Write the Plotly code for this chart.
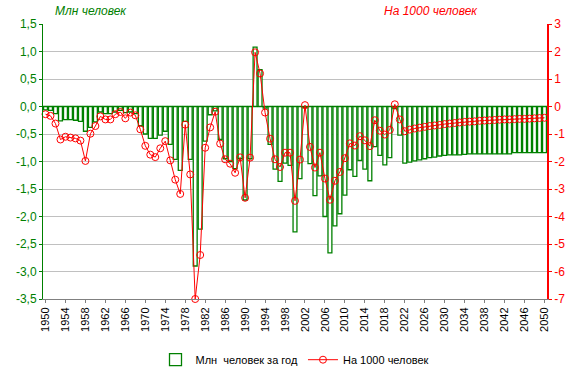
import plotly.graph_objects as go

years = list(range(1950, 2051))

mln_per_year = [
    -0.06, -0.07, -0.13, -0.26, -0.24, -0.24, -0.25, -0.27, -0.45, -0.38,   # 1950-59
    -0.28, -0.10, -0.13, -0.13, -0.10, -0.07, -0.11, -0.10, -0.13, -0.35,   # 1960-69
    -0.50, -0.58, -0.58, -0.52, -0.45, -0.69, -0.96, -1.16, -0.27, -0.96,   # 1970-79
    -2.90, -2.23, -0.63, -0.15, -0.08, -0.60, -0.95, -1.00, -1.13, -0.95,   # 1980-89
    -1.70, -0.95, 1.08, 0.67, -0.03, -0.69, -1.14, -1.36, -1.03, -1.07,     # 1990-99
    -2.28, -1.31, -0.02, -1.04, -1.62, -1.26, -2.00, -2.66, -2.17, -1.95,   # 2000-09
    -1.61, -1.15, -1.27, -0.98, -1.14, -1.35, -0.73, -0.89, -1.06, -0.93,   # 2010-19
    -0.04, -0.52, -1.03, -1.01, -0.99, -0.97, -0.95, -0.93, -0.92, -0.90,   # 2020-29
    -0.89, -0.88, -0.88, -0.88, -0.87, -0.86, -0.86, -0.86, -0.86, -0.86,   # 2030-39
    -0.86, -0.86, -0.86, -0.86, -0.84, -0.84, -0.84, -0.84, -0.84, -0.84,   # 2040-49
    -0.84,                                                                  # 2050
]

per_1000 = [
    -0.28, -0.34, -0.62, -1.20, -1.10, -1.13, -1.16, -1.24, -1.98, -0.99,   # 1950-59
    -0.71, -0.36, -0.47, -0.47, -0.28, -0.20, -0.43, -0.22, -0.32, -0.83,   # 1960-69
    -1.43, -1.75, -1.84, -1.52, -1.26, -1.96, -2.66, -3.18, -0.66, -2.47,   # 1970-79
    -7.00, -5.40, -1.50, -0.76, -0.19, -1.35, -1.92, -2.08, -2.41, -1.85,   # 1980-89
    -3.32, -1.86, 1.97, 1.20, -0.22, -1.17, -1.92, -2.20, -1.68, -1.68,     # 1990-99
    -3.43, -1.93, 0.05, -1.47, -2.22, -1.68, -2.62, -3.39, -2.70, -2.38,    # 2000-09
    -1.88, -1.34, -1.42, -1.08, -1.23, -1.44, -0.50, -0.88, -1.02, -0.85,   # 2010-19
    0.08, -0.47, -0.90, -0.84, -0.80, -0.77, -0.74, -0.71, -0.69, -0.67,    # 2020-29
    -0.64, -0.62, -0.60, -0.58, -0.56, -0.55, -0.54, -0.52, -0.51, -0.50,   # 2030-39
    -0.49, -0.48, -0.47, -0.47, -0.46, -0.45, -0.45, -0.44, -0.43, -0.42,   # 2040-49
    -0.41,                                                                  # 2050
]

x_ticks = list(range(1950, 2051, 4))
left_ticks = [1.5, 1.0, 0.5, 0.0, -0.5, -1.0, -1.5, -2.0, -2.5, -3.0, -3.5]
left_tick_text = ["1,5", "1,0", "0,5", "0,0", "-0,5", "-1,0", "-1,5", "-2,0", "-2,5", "-3,0", "-3,5"]
right_ticks = list(range(-7, 4))
right_tick_text = [str(v) for v in right_ticks]

bar_name = "Млн  человек за год"
line_name = "На 1000 человек"
left_title = "Млн человек"
right_title = "На 1000 человек"

FONT = "Arial, Liberation Sans, sans-serif"
GREEN = "#008000"
RED = "#FF0000"

fig = go.Figure()
fig.add_trace(go.Bar(
    x=years, y=mln_per_year, name=bar_name,
    marker=dict(color="white", line=dict(color=GREEN, width=1.3)),
    yaxis="y",
))
fig.add_trace(go.Scatter(
    x=years, y=per_1000, name=line_name, mode="lines+markers",
    line=dict(color=RED, width=1),
    marker=dict(symbol="circle-open", size=7, color=RED, line=dict(width=1, color=RED)),
    yaxis="y2", cliponaxis=False,
))

fig.update_layout(
    width=580, height=373,
    margin=dict(l=43, r=33, t=24, b=74, autoexpand=False),
    paper_bgcolor="white", plot_bgcolor="white",
    font=dict(family=FONT, size=11, color="black"),
    bargap=0.22,
    showlegend=True,
    legend=dict(orientation="h", x=0.5, xanchor="center", y=-0.168, yanchor="top",
                font=dict(size=11, color="black"), itemwidth=30,
                traceorder="normal"),
    xaxis=dict(
        range=[1949.5, 2050.5], tickmode="array", tickvals=x_ticks,
        ticktext=[str(v) for v in x_ticks], tickangle=-90,
        showgrid=False, zeroline=False, showline=True, linecolor="#808080",
        ticks="outside", ticklen=3, tickcolor="#808080",
        tickfont=dict(size=11, color="black"),
    ),
    yaxis=dict(
        range=[-3.5, 1.5], tickmode="array", tickvals=left_ticks, ticktext=left_tick_text,
        showgrid=True, gridcolor="#C0C0C0", gridwidth=1,
        zeroline=True, zerolinecolor="black", zerolinewidth=1,
        showline=True, linecolor=GREEN, linewidth=1,
        ticks="outside", ticklen=3, tickcolor=GREEN,
        tickfont=dict(size=12, color=GREEN),
    ),
    yaxis2=dict(
        range=[-7, 3], tickmode="array", tickvals=right_ticks, ticktext=right_tick_text,
        overlaying="y", side="right", showgrid=False, zeroline=False,
        showline=True, linecolor=RED, linewidth=1.5,
        ticks="outside", ticklen=3, tickcolor=RED,
        tickfont=dict(size=12, color=RED),
    ),
    annotations=[
        dict(text=left_title, xref="paper", yref="paper", x=0.02, y=1.0,
             xanchor="left", yanchor="bottom", yshift=4, showarrow=False,
             font=dict(size=12, color=GREEN, family=FONT, style="italic")),
        dict(text=right_title, xref="paper", yref="paper", x=0.868, y=1.0,
             xanchor="right", yanchor="bottom", yshift=4, showarrow=False,
             font=dict(size=12, color=RED, family=FONT, style="italic")),
    ],
)

fig.write_html("out.html", config={"displayModeBar": False})

# remove the browser's default page margin so the figure sits at the window origin
with open("out.html", "r", encoding="utf-8") as f:
    html = f.read()
html = html.replace("<body>", '<body style="margin:0;padding:0;">', 1)
with open("out.html", "w", encoding="utf-8") as f:
    f.write(html)
